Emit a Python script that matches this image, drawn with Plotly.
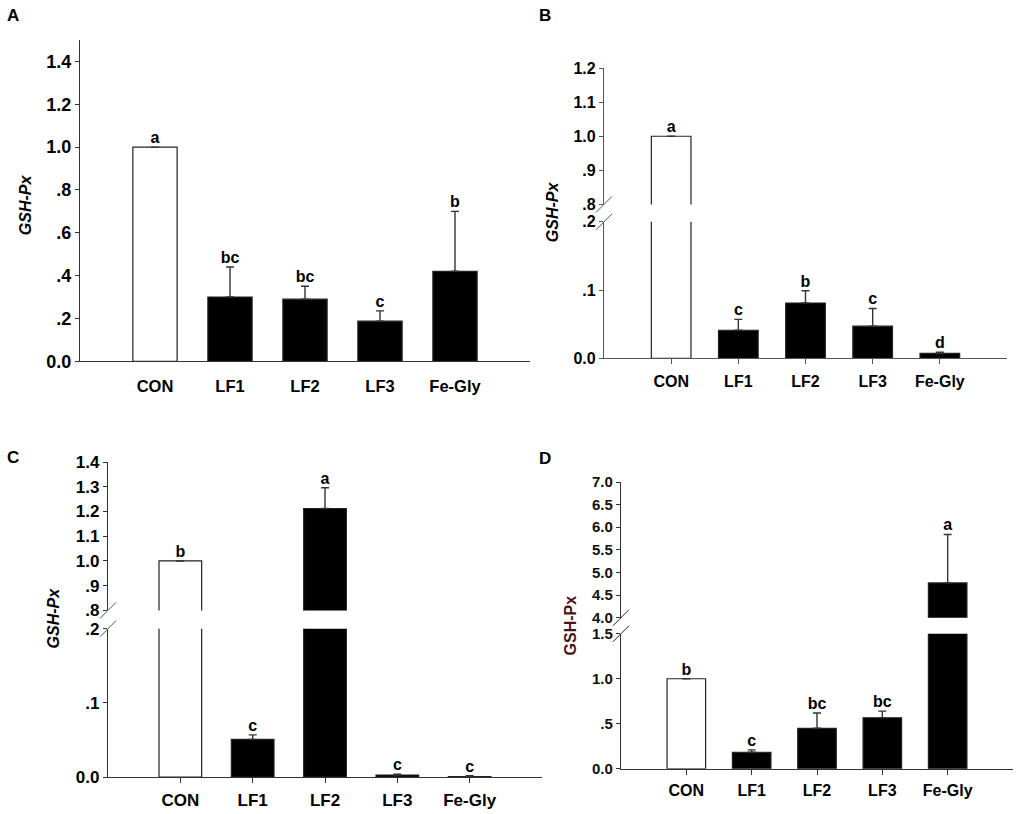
import plotly.graph_objects as go

W, H = 1021, 814
# the captured page comes out slightly squeezed vertically; measured from
# earlier renders: screen_y ~= 9 + 0.976 * figure_y
Y0, YS = 9.0, 0.976

groups = ["CON", "LF1", "LF2", "LF3", "Fe-Gly"]

# panel A
a_vals = [1.0, 0.30, 0.29, 0.187, 0.42]
a_err = [0.0, 0.14, 0.06, 0.048, 0.28]
a_letters = ["a", "bc", "bc", "c", "b"]

# panel B
b_vals = [1.0, 0.041, 0.081, 0.047, 0.007]
b_err = [0.0, 0.016, 0.018, 0.026, 0.002]
b_letters = ["a", "c", "b", "c", "d"]

# panel C
c_vals = [1.0, 0.051, 1.212, 0.003, 0.001]
c_err = [0.0, 0.006, 0.084, 0.001, 0.001]
c_letters = ["b", "c", "a", "c", "c"]

# panel D
d_vals = [1.0, 0.184, 0.45, 0.567, 4.77]
d_err = [0.0, 0.026, 0.17, 0.073, 1.07]
d_letters = ["b", "c", "bc", "bc", "a"]

# tick labels
a_ticks = [0.0, 0.2, 0.4, 0.6, 0.8, 1.0, 1.2, 1.4]
a_ticktext = ["0.0", ".2", ".4", ".6", ".8", "1.0", "1.2", "1.4"]
bc_low_ticks = [0.0, 0.1, 0.2]
bc_low_text = ["0.0", ".1", ".2"]
b_high_ticks = [0.8, 0.9, 1.0, 1.1, 1.2]
b_high_text = [".8", ".9", "1.0", "1.1", "1.2"]
c_high_ticks = [0.8, 0.9, 1.0, 1.1, 1.2, 1.3, 1.4]
c_high_text = [".8", ".9", "1.0", "1.1", "1.2", "1.3", "1.4"]
d_low_ticks = [0.0, 0.5, 1.0, 1.5]
d_low_text = ["0.0", ".5", "1.0", "1.5"]
d_high_ticks = [4.0, 4.5, 5.0, 5.5, 6.0, 6.5, 7.0]
d_high_text = ["4.0", "4.5", "5.0", "5.5", "6.0", "6.5", "7.0"]

FONT = "Arial, Liberation Sans, sans-serif"
bar_colors = ["white", "black", "black", "black", "black"]


def px_x(p):
    return p / W


def px_y(p):
    return 1 - ((p - Y0) / YS) / H


def bold(size, color="black"):
    return dict(family=FONT, size=size, color=color, weight="bold")


fig = go.Figure()


def add_bars(vals, errs, letters, xa, ya_lo, ya_hi=None, split=None):
    pos = list(range(len(groups)))
    axes = [ya_lo] if ya_hi is None else [ya_lo, ya_hi]
    for ya in axes:
        fig.add_trace(go.Bar(
            x=pos, y=vals, width=0.59,
            marker=dict(color=bar_colors, line=dict(color="#222", width=1.2)),
            error_y=dict(type="data", array=errs, arrayminus=[0] * len(errs),
                         symmetric=False, color="#333", thickness=1.4, width=4),
            xaxis=xa, yaxis=ya, showlegend=False, hoverinfo="skip",
        ))
    # significance letters, placed in whichever segment holds the bar top
    for i, (v, e, t) in enumerate(zip(vals, errs, letters)):
        ya = ya_lo if (split is None or v + e < split) else ya_hi
        fig.add_trace(go.Scatter(
            x=[i], y=[v + e], mode="text", text=[t], textposition="top center",
            textfont=bold(16), cliponaxis=False,
            xaxis=xa, yaxis=ya, showlegend=False, hoverinfo="skip",
        ))


add_bars(a_vals, a_err, a_letters, "x", "y")
add_bars(b_vals, b_err, b_letters, "x2", "y2", "y3", 0.2)
add_bars(c_vals, c_err, c_letters, "x3", "y4", "y5", 0.2)
add_bars(d_vals, d_err, d_letters, "x4", "y6", "y7", 1.5)


def xaxis_cfg(x0, x1, anchor, ticks, standoff, size, color="#333"):
    return dict(domain=[px_x(x0), px_x(x1)], anchor=anchor, range=[-1, 5],
                tickvals=list(range(len(groups))), ticktext=groups,
                showline=True, linecolor=color, linewidth=1.3,
                ticks=ticks, ticklen=5, tickcolor=color,
                showgrid=False, zeroline=False, tickfont=bold(size),
                ticklabelstandoff=standoff)


def yaxis_cfg(y_top, y_bot, anchor, rng, tv, tt, size, color="#333", fcolor="black"):
    return dict(domain=[px_y(y_bot), px_y(y_top)], anchor=anchor, range=rng,
                tickvals=tv, ticktext=tt, showline=True, linecolor=color,
                linewidth=1.3, ticks="outside", ticklen=4, tickcolor=color,
                showgrid=False, zeroline=False, tickfont=bold(size, fcolor))


fig.update_layout(
    width=W, height=H, margin=dict(l=0, r=0, t=0, b=0),
    paper_bgcolor="white", plot_bgcolor="white",
    barmode="overlay", font=dict(family=FONT),
    xaxis=xaxis_cfg(80, 530, "y", "", 10, 16.5),
    yaxis=yaxis_cfg(40, 361, "x", [0, 1.5], a_ticks, a_ticktext, 18),
    xaxis2=xaxis_cfg(604, 1007, "y2", "outside", 3, 16, "#555"),
    yaxis2=yaxis_cfg(221.7, 358, "x2", [0, 0.2], bc_low_ticks, bc_low_text, 16, "#555"),
    yaxis3=yaxis_cfg(68, 204.3, "x2", [0.8, 1.2], b_high_ticks, b_high_text, 16, "#555"),
    xaxis3=xaxis_cfg(108, 542, "y4", "outside", 2, 17),
    yaxis4=yaxis_cfg(628.3, 776.7, "x3", [0, 0.2], bc_low_ticks, bc_low_text, 17),
    yaxis5=yaxis_cfg(461.7, 610, "x3", [0.8, 1.4], c_high_ticks, c_high_text, 17),
    xaxis4=xaxis_cfg(621, 1013, "y6", "outside", 2, 16),
    yaxis6=yaxis_cfg(633.3, 768.3, "x4", [0, 1.5], d_low_ticks, d_low_text, 15, fcolor="#111"),
    yaxis7=yaxis_cfg(481.7, 617.3, "x4", [4, 7], d_high_ticks, d_high_text, 15, fcolor="#111"),
)

# axis-break slashes
for xa, ylo, yhi, col in [("x2", "y2", "y3", "#555"), ("x3", "y4", "y5", "#555"),
                          ("x4", "y6", "y7", "#222")]:
    for ya, yanc in [(ylo, 1), (yhi, 0)]:
        fig.add_shape(type="line", xref=f"{xa} domain", yref=f"{ya} domain",
                      xsizemode="pixel", ysizemode="pixel", xanchor=0, yanchor=yanc,
                      x0=-8, x1=8, y0=-8, y1=8, line=dict(color=col, width=1))

# panel letters and axis titles
panel_labels = ["A", "B", "C", "D"]
label_pos = [(13, 15), (545, 15), (13, 457), (545, 458)]
for lab, (lx, ly) in zip(panel_labels, label_pos):
    fig.add_annotation(x=px_x(lx), y=px_y(ly), xref="paper", yref="paper", text=f"<b>{lab}</b>",
                       xanchor="center", yanchor="middle", showarrow=False,
                       font=dict(family=FONT, size=17, color="black"))

title_pos = [(25, 205), (552, 212), (53, 618), (570, 625)]
for i, (tx, ty) in enumerate(title_pos):
    txt = "<b><i>GSH-Px</i></b>" if i < 3 else "<b>GSH-Px</b>"
    col = "black" if i < 3 else "#4a1414"
    fig.add_annotation(x=px_x(tx), y=px_y(ty), xref="paper", yref="paper", text=txt,
                       textangle=-90, xanchor="center", yanchor="middle", showarrow=False,
                       font=dict(family=FONT, size=16, color=col))

# page without body margin so the figure fills the window exactly
fig.write_html("out.html", config={"displayModeBar": False},
               post_script="document.body.style.margin='0';"
                           "document.documentElement.style.overflow='hidden';")
